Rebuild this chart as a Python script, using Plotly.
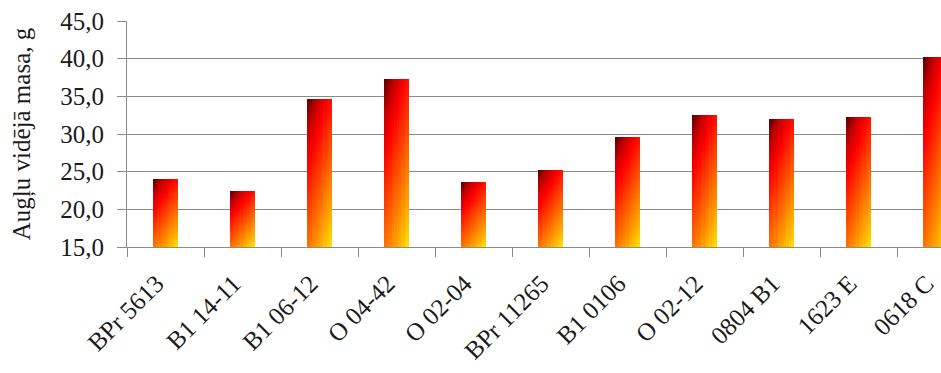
import plotly.graph_objects as go
from plotly.colors import sample_colorscale

# Fruit mass by cultivar / selection
cultivars = ["BPr 5613", "B1 14-11", "B1 06-12", "O 04-42", "O 02-04", "BPr 11265",
             "B1 0106", "O 02-12", "0804 B1", "1623 E", "0618 C"]
mean_mass = [24.0, 22.4, 34.7, 37.3, 23.6, 25.2, 29.6, 32.5, 32.0, 32.3, 40.2]
y_ticks = [15, 20, 25, 30, 35, 40, 45]

Y_MIN, Y_MAX = 15, 45
BAR_WIDTH = 0.32

# "Fire" diagonal gradient: dark red at top-left to yellow at bottom-right
fire = [[0.0, "#500000"], [0.14, "#c00000"], [0.3, "#ff0000"],
        [0.55, "#ff5000"], [0.8, "#ffa000"], [1.0, "#ffe400"]]

# each bar is layered from nested rectangles so the gradient has no seams
ROWS, COLS = 80, 10
xs, ys, bases, offs, wids, cols = [], [], [], [], [], []
for name, val in zip(cultivars, mean_mass):
    h = val - Y_MIN
    for r in range(ROWS):
        v = (r + 0.5) / ROWS
        top = h * (1 - r / ROWS)
        for c in range(COLS):
            u = (c + 0.5) / COLS
            t = 0.35 * u + 0.65 * v
            xs.append(name)
            ys.append(top)
            bases.append(Y_MIN)
            offs.append(-BAR_WIDTH / 2 + BAR_WIDTH * c / COLS)
            wids.append(BAR_WIDTH - BAR_WIDTH * c / COLS)
            cols.append(sample_colorscale(fire, [t])[0])

fig = go.Figure(go.Bar(
    x=xs, y=ys, base=bases, offset=offs, width=wids,
    marker=dict(color=cols, opacity=0.999, line=dict(width=0)),
    hoverinfo="skip", showlegend=False,
))

W, H = 941, 373
L, T, B = 127, 21, 126
cat_px = 77.0
x_end = -0.5 + (W - L) / cat_px

serif = "Liberation Serif"
fig.update_layout(
    width=W, height=H,
    margin=dict(l=L, r=0, t=T, b=B, pad=0, autoexpand=False),
    paper_bgcolor="white", plot_bgcolor="white",
    separators=", ",
    barmode="overlay", bargap=0, bargroupgap=0,
    xaxis=dict(
        type="category", categoryorder="array", categoryarray=cultivars,
        range=[-0.5, x_end], automargin=False,
        tickson="boundaries", ticks="outside", ticklen=9, tickcolor="#8a8a8a",
        showline=True, linecolor="#8a8a8a", linewidth=1,
        showgrid=False, tickangle=-45, ticklabelstandoff=11, ticklabelshift=-9,
        tickfont=dict(family=serif, size=25, color="#1a1a1a"),
    ),
    yaxis=dict(
        range=[Y_MIN, Y_MAX], tickvals=y_ticks, tickformat=".1f", automargin=False,
        ticks="outside", ticklen=9, tickcolor="#8a8a8a",
        showline=True, linecolor="#8a8a8a", linewidth=1,
        showgrid=True, gridcolor="#8a8a8a", gridwidth=1,
        zeroline=False, ticklabelstandoff=8,
        tickfont=dict(family=serif, size=25, color="#1a1a1a"),
        title=dict(text="Augļu vidējā masa, g",
                   font=dict(family=serif, size=25, color="#1a1a1a"),
                   standoff=22),
    ),
)

fig.write_html("out.html")
